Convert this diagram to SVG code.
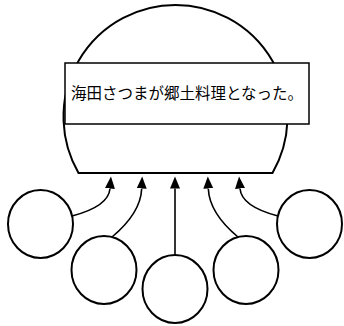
<svg xmlns="http://www.w3.org/2000/svg" width="344" height="326" viewBox="0 0 344 326">
<style>
.shape{fill:#fff;stroke:#000;stroke-width:2}
.box{fill:#fff;stroke:#000;stroke-width:1.5}
.lbl{font-family:"Noto Sans CJK JP",sans-serif;font-size:15.5px;fill:#000;text-anchor:middle}
.conn{fill:none;stroke:#000;stroke-width:1.6}
</style>
<defs>
<marker id="ah" markerUnits="userSpaceOnUse" markerWidth="14" markerHeight="12" refX="0" refY="5" orient="auto" viewBox="0 0 14 10">
<path d="M0,0 L12,5 L0,10 Z" fill="#000"/>
</marker>
</defs>
<g id="dome">
<path class="shape" d="M78.5,173 A112,112 0 1 1 272.5,173 Z"/>
</g>
<g id="label">
<rect class="box" x="65" y="63" width="244" height="61"/>
<text class="lbl" x="187" y="99">海田さつまが郷土料理となった。</text>
</g>
<g id="n1"><ellipse class="shape" cx="40.5" cy="224" rx="32.5" ry="34"/></g>
<g id="n2"><ellipse class="shape" cx="104" cy="270" rx="32.5" ry="34"/></g>
<g id="n3"><ellipse class="shape" cx="175" cy="289" rx="32.5" ry="34"/></g>
<g id="n4"><ellipse class="shape" cx="246" cy="270" rx="32.5" ry="34"/></g>
<g id="n5"><ellipse class="shape" cx="309.5" cy="224" rx="32.5" ry="34"/></g>
<g id="connectors">
<path class="conn" d="M72,216 C95,210 109,201 110,188.5" marker-end="url(#ah)"/>
<path class="conn" d="M112,237 C130,222 141,206 141.7,188.5" marker-end="url(#ah)"/>
<path class="conn" d="M175,255 L175,188.5" marker-end="url(#ah)"/>
<path class="conn" d="M238,237 C220,222 209,206 208.3,188.5" marker-end="url(#ah)"/>
<path class="conn" d="M278,216 C255,210 241,201 240,188.5" marker-end="url(#ah)"/>
</g>
</svg>
